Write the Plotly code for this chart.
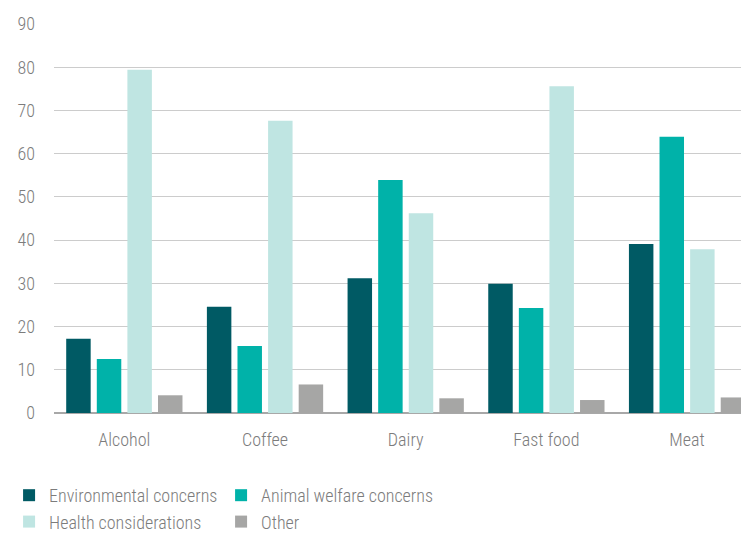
import plotly.graph_objects as go

categories = ["Alcohol", "Coffee", "Dairy", "Fast food", "Meat"]
environmental = [17.2, 24.6, 31.2, 29.9, 39.1]
animal_welfare = [12.5, 15.5, 53.9, 24.3, 63.9]
health = [79.4, 67.6, 46.2, 75.6, 37.9]
other = [4.1, 6.6, 3.4, 3.0, 3.6]
y_ticks = [0, 10, 20, 30, 40, 50, 60, 70, 80, 90]

series = [
    ("Environmental concerns", environmental, "#005a64", "legend"),
    ("Animal welfare concerns", animal_welfare, "#00b2a9", "legend2"),
    ("Health considerations", health, "#bfe5e2", "legend"),
    ("Other", other, "#a6a6a5", "legend2"),
]

FONT = "Roboto Condensed, Liberation Sans, Arial, sans-serif"
TXT = "#7c7c7c"

fig = go.Figure()
for name, vals, col, lg in series:
    fig.add_trace(go.Bar(x=categories, y=vals, name=name, marker=dict(color=col, line=dict(width=0)),
                         legend=lg))

fig.update_layout(
    width=749, height=534,
    margin=dict(l=39, r=1, t=16, b=129),
    paper_bgcolor="white", plot_bgcolor="white",
    barmode="group", bargap=0.13, bargroupgap=0.2,
    font=dict(family=FONT, size=18, color=TXT, weight=300),
    xaxis=dict(range=[-0.5, 4.49], showgrid=False, ticks="", showline=False,
               ticklabelstandoff=14, tickfont=dict(size=18, color=TXT, weight=300)),
    yaxis=dict(range=[0, 90], tickvals=y_ticks, showgrid=True, gridcolor="#cccccc", gridwidth=1,
               zeroline=True, zerolinecolor="#a8a8a8", zerolinewidth=1.5,
               ticks="", ticklabelstandoff=18, tickfont=dict(size=18, color=TXT, weight=300)),
    legend=dict(x=-0.064, y=-0.1645, xref="paper", yref="paper", xanchor="left", yanchor="top",
                orientation="v", traceorder="normal", tracegroupgap=0,
                font=dict(size=18, color=TXT, weight=300), itemwidth=30, bgcolor="rgba(0,0,0,0)"),
    legend2=dict(x=0.238, y=-0.1645, xref="paper", yref="paper", xanchor="left", yanchor="top",
                 orientation="v", traceorder="normal", tracegroupgap=0,
                 font=dict(size=18, color=TXT, weight=300), itemwidth=30, bgcolor="rgba(0,0,0,0)"),
)

fig.write_html("out.html")
